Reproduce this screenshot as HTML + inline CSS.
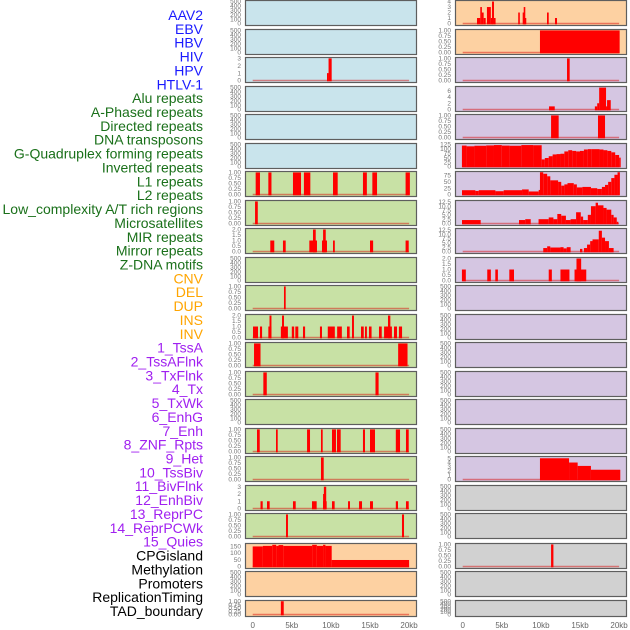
<!DOCTYPE html>
<html><head><meta charset="utf-8"><style>
html,body{margin:0;padding:0;background:#fff;}
svg{display:block;font-family:"Liberation Sans",sans-serif;}
</style></head><body>
<svg id="chart" width="630" height="630" viewBox="0 0 630 630"></svg>
<script>
// ---------- track labels ----------
const labelNames = ["AAV2","EBV","HBV","HIV","HPV","HTLV-1","Alu repeats","A-Phased repeats","Directed repeats","DNA transposons","G-Quadruplex forming repeats","Inverted repeats","L1 repeats","L2 repeats","Low_complexity A/T rich regions","Microsatellites","MIR repeats","Mirror repeats","Z-DNA motifs","CNV","DEL","DUP","INS","INV","1_TssA","2_TssAFlnk","3_TxFlnk","4_Tx","5_TxWk","6_EnhG","7_Enh","8_ZNF_Rpts","9_Het","10_TssBiv","11_BivFlnk","12_EnhBiv","13_ReprPC","14_ReprPCWk","15_Quies","CPGisland","Methylation","Promoters","ReplicationTiming","TAD_boundary"];
const labelGroups = [6,13,5,15,5];
const groupColors = ["#1a1aff","#1a701a","#ffa500","#a020f0","#000000"];

// ---------- x axis ----------
const xTickValues = [0,5,10,15,20];
const xTickLabels = ["0","5kb","10kb","15kb","20kb"];

// ---------- tick label sets ----------
const T01 = ["0.00","0.25","0.50","0.75","1.00"];
const T500 = ["0","100","200","300","400","500"];
const T2 = ["0.0","0.5","1.0","1.5","2.0"];
const T3 = ["0","1","2","3"];
const T4 = ["0","1","2","3","4"];
const T5 = ["0","1","2","3","4","5"];
const T6 = ["0","2","4","6"];
const T150 = ["0","50","100","150"];
const T125 = ["0","25","50","75","100","125"];
const T75 = ["0","25","50","75"];
const T125s = ["0.0","2.5","5.0","7.5","10.0","12.5"];

// ---------- series data: [startKb, endKb, value] ----------
const hbvLeft = [[9.5,9.7,1],[9.7,10.1,3]];
const l7 = [[0.38,0.93,1],[2.0,2.4,1],[5.15,6.18,1],[6.55,7.37,1],[10.27,10.87,1],[14.1,14.6,1],[15.3,15.9,1],[19.55,20.1,1]];
const l8 = [[0.3,0.65,1]];
const l9 = [[2.25,2.76,1],[3.87,4.22,1],[7.24,8.22,1],[7.71,8.06,2],[8.86,9.5,1],[9.0,9.34,2],[10.27,10.5,1],[15.0,15.4,1],[19.55,19.95,1]];
const l11 = [[4.0,4.22,1]];
const l12 = [[0.04,0.68,1],[0.93,1.2,1],[2.0,2.4,1],[2.15,2.4,2],[3.6,4.5,1],[3.75,4.0,2],[5.0,5.3,1],[5.45,5.83,1],[6.43,6.7,1],[8.6,8.86,1],[9.6,10.5,1],[10.8,11.4,1],[12.06,12.4,1],[12.7,12.95,2],[13.85,14.2,1],[14.36,14.6,1],[14.87,15.2,1],[16.15,16.5,1],[16.8,17.8,1],[17.3,17.6,2],[18.07,18.45,1],[18.7,19.1,1]];
const l13 = [[0.17,1.0,1],[18.6,19.8,1]];
const l14 = [[1.36,1.8,1],[15.7,16.1,1]];
const l16 = [[0.55,0.9,1],[2.98,3.2,1],[6.95,7.33,1],[8.73,8.95,1],[10.14,10.65,1],[10.78,11.25,1],[14.1,14.36,1],[15.0,15.64,1],[18.3,18.84,1],[19.6,19.95,1]];
const l17 = [[8.73,9.08,1]];
const l18 = [[1.0,1.28,1],[1.83,2.17,1],[5.15,5.5,1],[7.58,8.18,1],[9.0,9.46,1],[9.0,9.1,2],[9.1,9.4,3],[10.14,10.48,1],[12.19,12.44,1],[13.6,13.98,1],[15.0,15.38,1],[18.3,18.58,1],[19.6,19.95,1]];
const l19 = [[4.26,4.51,1],[19.09,19.35,1]];
const cpg = [[0,1.3,148],[1.3,2.5,152],[2.5,3.0,160],[3.0,3.3,152],[3.3,3.9,158],[3.9,7.6,152],[7.6,8.2,160],[8.2,9.0,152],[9.0,9.3,160],[9.3,10.1,152],[10.1,20.0,48]];
const tad = [[3.6,3.97,1]];

const r0 = [[1.83,2.25,1],[2.25,2.43,3],[2.43,2.68,2],[2.68,2.94,1],[3.1,3.6,3],[3.6,3.75,1],[3.75,4.0,4],[4.0,4.05,1],[7.1,7.24,2],[7.67,7.8,2],[7.8,7.9,3],[7.9,8.13,1],[10.78,11.0,2],[11.8,12.06,1]];
const r1 = [[9.88,20.07,1]];
const r2 = [[13.34,13.68,1]];
const r3 = [[11.04,11.77,1],[16.9,17.2,1],[17.2,17.45,2],[17.45,18.33,7],[18.33,18.46,1],[18.46,18.93,3]];
const r4 = [[11.3,12.27,1],[17.3,18.2,1]];
const r5 = [[-0.1,0.5,118],[0.5,1.5,114],[1.5,3,117],[3,4,119],[4,5,121],[5,6,118],[6,7.5,117],[7.5,9,121],[9,10.1,120],[10.1,10.5,40],[10.5,11,48],[11,11.5,58],[11.5,12,68],[12,12.5,70],[12.5,13,72],[13,13.5,85],[13.5,14,92],[14,14.5,88],[14.5,15,85],[15,15.5,88],[15.5,16,96],[16,16.5,98],[16.5,17.5,98],[17.5,18,96],[18,18.5,92],[18.5,19,88],[19,19.5,80],[19.5,20,65],[20,20.1,50]];
const r6 = [[-0.09,1.62,17],[1.62,2.05,14],[2.05,4.18,17],[4.18,5.24,13],[5.24,7.59,17],[7.59,8.44,20],[8.44,9.72,12],[9.72,9.88,18],[9.88,10.3,88],[10.3,10.8,82],[10.8,11.2,72],[11.2,12.2,56],[12.2,12.6,50],[12.6,13,35],[13,13.4,40],[13.4,14.2,45],[14.2,14.6,40],[14.6,15.3,28],[15.3,16.4,30],[16.4,17.2,25],[17.2,17.8,22],[17.8,18.2,30],[18.2,18.6,38],[18.6,19.0,50],[19.0,19.4,65],[19.4,19.8,78],[19.8,20.1,88]];
const r7 = [[-0.09,2.3,2],[7.2,8.0,2],[8.0,8.7,2.5],[9.7,11.0,2.5],[11.0,11.6,3.5],[11.6,12.1,2.5],[12.1,12.6,5.5],[12.6,13.2,4.5],[13.2,13.8,2],[13.8,14.5,2.5],[14.5,15.1,6.5],[15.1,15.4,4],[15.4,16.0,2],[16.0,16.4,5],[16.4,17.0,10],[17.0,17.3,12],[17.3,18.0,10.5],[18.0,18.4,9],[18.4,19.0,8],[19.0,19.3,5],[19.3,19.7,3.5],[19.7,19.9,1]];
const r8 = [[10.3,10.8,2],[10.8,11.2,3],[11.2,12.5,2.3],[12.5,12.9,2.5],[12.9,13.3,1.8],[13.3,13.8,2.5],[15.0,15.3,1.5],[15.5,15.9,2],[15.9,16.3,4],[16.3,16.6,6],[16.6,17.4,7],[17.4,17.8,12],[17.8,18.2,8],[18.2,18.7,6],[18.7,19.3,2]];
const r9 = [[-0.1,0.4,1],[3.14,3.6,1],[4.17,4.5,1],[5.96,6.56,1],[11.0,11.4,1],[12.5,13.65,1],[14.3,15.8,1],[14.55,15.15,2]];
const r16 = [[9.88,13.6,5],[13.6,14.7,4],[14.7,16.4,3.2],[16.4,20.15,2.3]];
const r19 = [[11.3,11.6,1]];

// ---------- panel layout ----------
const panelTops = [0,29,57,86,114,143,171,200,228,257,285,314,342,371,399,428,456,485,513,543,571,600];
const bgColors = {b:"#c9e4ec",g:"#c8e1a5",o:"#fdd1a2",p:"#d5c6e2",n:"#d1d1d1"};
const leftPanels = [
 ["b",510,T500,null],["b",510,T500,null],["b",3.05,T3,hbvLeft],["b",510,T500,null],["b",510,T500,null],["b",510,T500,null],
 ["g",1.02,T01,l7],["g",1.02,T01,l8],["g",2.05,T2,l9],["g",510,T500,null],["g",1.02,T01,l11],["g",2.05,T2,l12],
 ["g",1.02,T01,l13],["g",1.02,T01,l14],["g",510,T500,null],["g",1.02,T01,l16],["g",1.02,T01,l17],["g",3.1,T3,l18],["g",1.02,T01,l19],
 ["o",166,T150,cpg],["o",510,T500,null],["o",1.02,T01,tad]
];
const rightPanels = [
 ["o",4.1,T4,r0],["o",1.02,T01,r1],["p",1.02,T01,r2],["p",7.2,T6,r3],["p",1.02,T01,r4],["p",127,T125,r5],["p",89,T75,r6],
 ["p",13,T125s,r7],["p",13,T125s,r8],["p",2.05,T2,r9],["p",510,T500,null],["p",510,T500,null],["p",510,T500,null],["p",510,T500,null],
 ["p",510,T500,null],["p",510,T500,null],["p",5.3,T5,r16],["n",510,T500,null],["n",510,T500,null],["n",1.02,T01,r19],["n",510,T500,null],["n",510,T500,null]
];

const NS = "http://www.w3.org/2000/svg";
const svg = document.getElementById("chart");
function mk(tag, attrs){const e=document.createElementNS(NS,tag);for(const k in attrs)e.setAttribute(k,attrs[k]);return e;}
const X0 = 252.7, PXKB = 7.82, COLDX = 210;
function xScale(col, kb){return X0 + col*COLDX + kb*PXKB;}
function yScale(top, h, ymax, v){const b=top+h-1.5, t=top+1; return b-(v/ymax)*(b-t);}

// labels
let li = 0;
labelGroups.forEach((n,gi)=>{
  for(let k=0;k<n;k++){
    const t = mk("text",{x:203,y:(20+li*13.86).toFixed(1),"text-anchor":"end","font-size":"14",fill:groupColors[gi]});
    t.textContent = labelNames[li];
    
    
    svg.appendChild(t);
    li++;
  }
});

function drawColumn(panels, col){
  panels.forEach((p,i)=>{
    const top = panelTops[i];
    const h = i===panelTops.length-1 ? 16 : 25;
    const g = mk("g",{});
    
    
    const rect = mk("rect",{x:245+col*COLDX+0.5,y:top+0.5,width:171,height:h,fill:bgColors[p[0]],stroke:"#5e5e5e","stroke-width":"1.2"});
    
    
    g.appendChild(rect);
    const ymax = p[1], ticks = p[2];
    ticks.forEach(tl=>{
      const v = parseFloat(tl);
      const t = mk("text",{x:241+col*COLDX,y:(yScale(top,h,ymax,v)+2.2).toFixed(1),"text-anchor":"end","font-size":"6.5",fill:"#777"});
      t.textContent = tl;
      
      
      g.appendChild(t);
    });
    if(p[3]){
      const y0 = yScale(top,h,ymax,0);
      const base = mk("line",{x1:xScale(col,0),x2:xScale(col,20),y1:y0,y2:y0,stroke:"rgba(215,0,0,0.45)","stroke-width":"1.6"});
      
      
      g.appendChild(base);
      p[3].forEach(s=>{
        const x1 = xScale(col,s[0]), x2 = xScale(col,s[1]);
        const yt = Math.max(top+1, yScale(top,h,ymax,s[2]));
        const bar = mk("rect",{x:x1.toFixed(2),y:yt.toFixed(2),width:Math.max(1.6,x2-x1).toFixed(2),height:(y0-yt+0.8).toFixed(2),fill:"#ff0000"});
        
        
        g.appendChild(bar);
      });
    }
    svg.appendChild(g);
  });
  xTickValues.forEach((v,k)=>{
    const t = mk("text",{x:xScale(col,v).toFixed(1),y:628,"text-anchor":"middle","font-size":"8",fill:"#666"});
    t.textContent = xTickLabels[k];
    
    
    svg.appendChild(t);
  });
}
drawColumn(leftPanels,0);
drawColumn(rightPanels,1);
</script>
</body></html>
